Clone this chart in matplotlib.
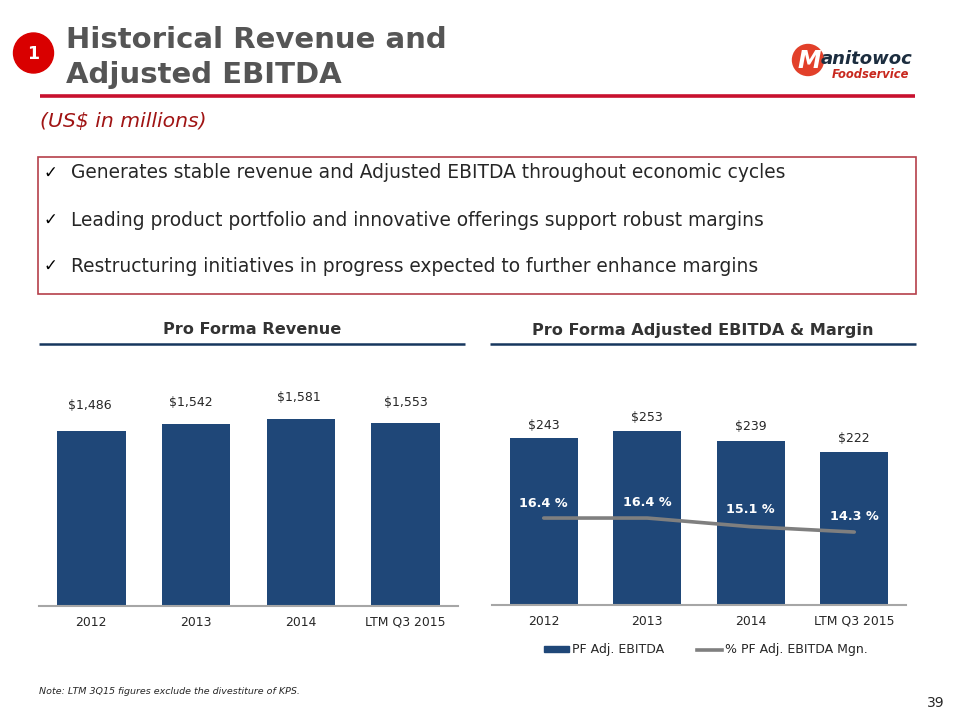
import matplotlib
matplotlib.use('Agg')
import matplotlib.pyplot as plt
from matplotlib.patches import Circle, Rectangle
from matplotlib.lines import Line2D
from matplotlib.patches import Patch

W, H = 960, 720
NAVY = '#1f4778'
GREY = '#7f7f7f'
RED = '#c8102e'

categories = ['2012', '2013', '2014', 'LTM Q3 2015']
revenue = [1486, 1542, 1581, 1553]
ebitda = [243, 253, 239, 222]
margin = [16.4, 16.4, 15.1, 14.3]

bullets = [
    'Generates stable revenue and Adjusted EBITDA throughout economic cycles',
    'Leading product portfolio and innovative offerings support robust margins',
    'Restructuring initiatives in progress expected to further enhance margins',
]

plt.rcParams['font.family'] = ['DejaVu Sans']


def axes_px(fig, left, top, right, bottom):
    # pixel box (y from the top) to figure fractions
    return fig.add_axes([left / W, 1 - bottom / H, (right - left) / W, (bottom - top) / H])


def bar_panel(ax, values, ymax, label_dx, label_gap):
    x = range(len(values))
    ax.bar(x, values, width=0.655, color=NAVY)
    ax.set_xlim(-0.5, 3.5)
    ax.set_ylim(0, ymax)
    ax.set_xticks(list(x))
    ax.set_xticklabels(categories, fontsize=8.9, color='#262626')
    ax.tick_params(axis='x', length=0, pad=7)
    ax.set_yticks([])
    for s in ['top', 'left', 'right']:
        ax.spines[s].set_visible(False)
    ax.spines['bottom'].set_color('#a6a6a6')
    ax.spines['bottom'].set_linewidth(1.5)
    ax.patch.set_alpha(0)
    for i, v in enumerate(values):
        ax.annotate(f'${v:,}', (i, v), xytext=(label_dx[i], label_gap[i]), textcoords='offset pixels',
                    ha='center', va='center', fontsize=9, color='#262626')


fig = plt.figure(figsize=(9.6, 7.2), dpi=100, facecolor='white')

# page layer in pixel coordinates
page = fig.add_axes([0, 0, 1, 1])
page.set_xlim(0, W)
page.set_ylim(H, 0)
page.axis('off')

page.add_patch(Circle((33.5, 53), 20, color='#d90000', zorder=2))
page.text(33.5, 54, '1', color='white', fontsize=12.5, fontweight='bold', ha='center', va='center', zorder=3)
page.text(66, 40, 'Historical Revenue and', fontsize=21, fontweight='bold', color='#555555', va='center')
page.text(66, 75, 'Adjusted EBITDA', fontsize=21, fontweight='bold', color='#555555', va='center')
page.plot([40, 915], [96, 96], color=RED, lw=2.6, solid_capstyle='butt')
page.text(40, 121, '(US$ in millions)', fontsize=14.7, style='italic', color='#a01414', va='center')

# logo, drawn as text plus a disc
page.add_patch(Circle((808, 60), 15.5, color='#e2402a', zorder=2))
page.text(809, 61, 'M', color='white', fontsize=17, fontweight='bold', style='italic', ha='center', va='center', zorder=3)
page.text(821, 59, 'anitowoc', color='#1c2d3f', fontsize=13, fontweight='bold', style='italic', va='center')
page.text(832, 75, 'Foodservice', color='#c8281e', fontsize=8.3, fontweight='bold', style='italic', va='center')

# bullet box
page.add_patch(Rectangle((38, 157), 878, 137, fill=False, edgecolor='#b5404a', lw=1.2))
for y, txt in zip([173, 220, 266], bullets):
    page.text(43, y, '\u2713', fontsize=12, color='black', va='center')
    page.text(71, y, txt, fontsize=13.4, color='#262626', va='center')

# panel headers
page.text(252, 330, 'Pro Forma Revenue', fontsize=11.6, fontweight='bold', color='#333333', ha='center', va='center')
page.plot([39, 465], [344, 344], color='#17375e', lw=1.8, solid_capstyle='butt')
page.text(703, 330, 'Pro Forma Adjusted EBITDA & Margin', fontsize=11.6, fontweight='bold', color='#333333', ha='center', va='center')
page.plot([490, 916], [344, 344], color='#17375e', lw=1.8, solid_capstyle='butt')

# left chart
ax1 = axes_px(fig, 39, 370, 458, 606)
bar_panel(ax1, revenue, 2000, [-2, -5, -2, 0], [25, 22, 22, 20])

# right chart
ax2 = axes_px(fig, 492, 370, 906, 605)
bar_panel(ax2, ebitda, 342, [0, 0, 0, 0], [13, 14, 14, 14])
ax3 = ax2.twinx()
ax3.plot(range(4), margin, color=GREY, lw=2.6, solid_capstyle='round')
ax3.set_ylim(3.36, 38.6)
ax3.set_yticks([])
ax3.axis('off')
for i, (m, gap) in enumerate(zip(margin, [15, 16, 17, 16])):
    ax3.annotate(f'{m} %', (i, m), xytext=(0, gap), textcoords='offset pixels', ha='center',
                 va='center', fontsize=9.2, fontweight='bold', color='white')

# legend
leg = page.legend(handles=[Patch(color=NAVY, label='PF Adj. EBITDA'),
                           Line2D([], [], color=GREY, lw=2.6, label='% PF Adj. EBITDA Mgn.')],
                  loc='center', bbox_to_anchor=(706 / W, 1 - 650 / H), bbox_transform=fig.transFigure,
                  ncol=2, frameon=False, fontsize=9, handlelength=2.0, handleheight=0.4, handletextpad=0.25,
                  columnspacing=2.6, labelcolor='#262626')

page.text(39, 692, 'Note: LTM 3Q15 figures exclude the divestiture of KPS.', fontsize=6.8, style='italic', color='#262626', va='center')
page.text(945, 703, '39', fontsize=10, color='#262626', ha='right', va='center')

fig.savefig('out.png', dpi=100)
